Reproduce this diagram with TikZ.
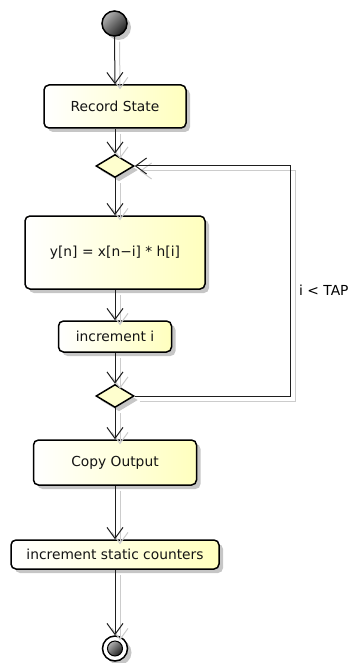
\documentclass[tikz,border=0pt]{standalone}
\usepackage{fontspec}
\setmainfont{DejaVu Sans}
\usetikzlibrary{arrows.meta,shapes.geometric,shadows}
\definecolor{actfill}{RGB}{255,255,190}
\definecolor{decfill}{RGB}{254,254,206}
\definecolor{inkline}{RGB}{30,30,30}
\begin{document}
\begin{tikzpicture}[x=1pt,y=-1pt,
  every node/.style={font=\fontsize{13.8}{16}\selectfont, text=black!92},
  softshadow/.style={drop shadow={shadow xshift=4pt, shadow yshift=-4pt, opacity=0.45, fill=black!50}},
  action/.style={draw=black, line width=1.5pt, rounded corners=5pt,
    left color=white, right color=actfill, inner sep=0pt, softshadow},
  decision/.style={diamond, draw=black, line width=1.5pt, fill=decfill,
    inner sep=0pt, minimum width=38pt, minimum height=23pt, softshadow},
  flow/.style={draw=inkline, line width=1pt,
    -{Straight Barb[length=11pt,width=16pt,line width=1pt]}},
  flowshadow/.style={draw=black!20, line width=1pt,
    -{Straight Barb[length=11pt,width=16pt,line width=1pt]}}
]
\useasboundingbox (0,0) rectangle (353,663);

% start and end
\node[circle, minimum size=25pt, inner sep=0pt, draw=black, line width=1.5pt,
  top color=black!30, bottom color=black!88, shading angle=45, softshadow] (start) at (114.5,23.5) {};
\node[circle, minimum size=25pt, inner sep=0pt, draw=black, line width=1.5pt,
  fill=white, softshadow] (stop) at (115,648.5) {};
\node[circle, minimum size=15pt, inner sep=0pt, draw=black, line width=1pt,
  top color=black!30, bottom color=black!88, shading angle=45] (stopdot) at (stop) {};

% activities
\node[action, minimum width=142pt, minimum height=43pt] (record) at (115,106.5) {Record State};
\node[decision] (loopin) at (115,166) {};
\node[action, minimum width=180pt, minimum height=73pt] (mac) at (115,252.5) {y[n] = x[n−i] * h[i]};
\node[action, minimum width=113pt, minimum height=31pt] (inc) at (115,336.5) {increment i};
\node[decision] (loopout) at (115,396) {};
\node[action, minimum width=163pt, minimum height=45pt] (copy) at (115,462.5) {Copy Output};
\node[action, minimum width=208pt, minimum height=29pt] (counters) at (115,554.5) {increment static counters};

% loop back edge and its guard
\coordinate (loopx) at (290,0);
\node[anchor=west, inner sep=0pt, text=black] (guard) at (299,290) {i < TAP};

% connector shadows, offset down and to the right
\foreach \a/\b in {start/record, record/loopin, loopin/mac, mac/inc, inc/loopout,
                   loopout/copy, copy/counters, counters/stop}
  \draw[flowshadow] ([shift={(5,5)}]\a.south) -- ([shift={(5,5)}]\b.north);
\draw[flowshadow] ([shift={(5,5)}]loopout.east) -- ([shift={(5,5)}]loopout.east -| loopx)
  -- ([shift={(5,5)}]loopin.east -| loopx) -- ([shift={(5,5)}]loopin.east);

% connectors
\foreach \a/\b in {start/record, record/loopin, loopin/mac, mac/inc, inc/loopout,
                   loopout/copy, copy/counters, counters/stop}
  \draw[flow] (\a.south) -- (\b.north);
\draw[flow] (loopout.east) -- (loopout.east -| loopx) -- (loopin.east -| loopx) -- (loopin.east);
\end{tikzpicture}
\end{document}
